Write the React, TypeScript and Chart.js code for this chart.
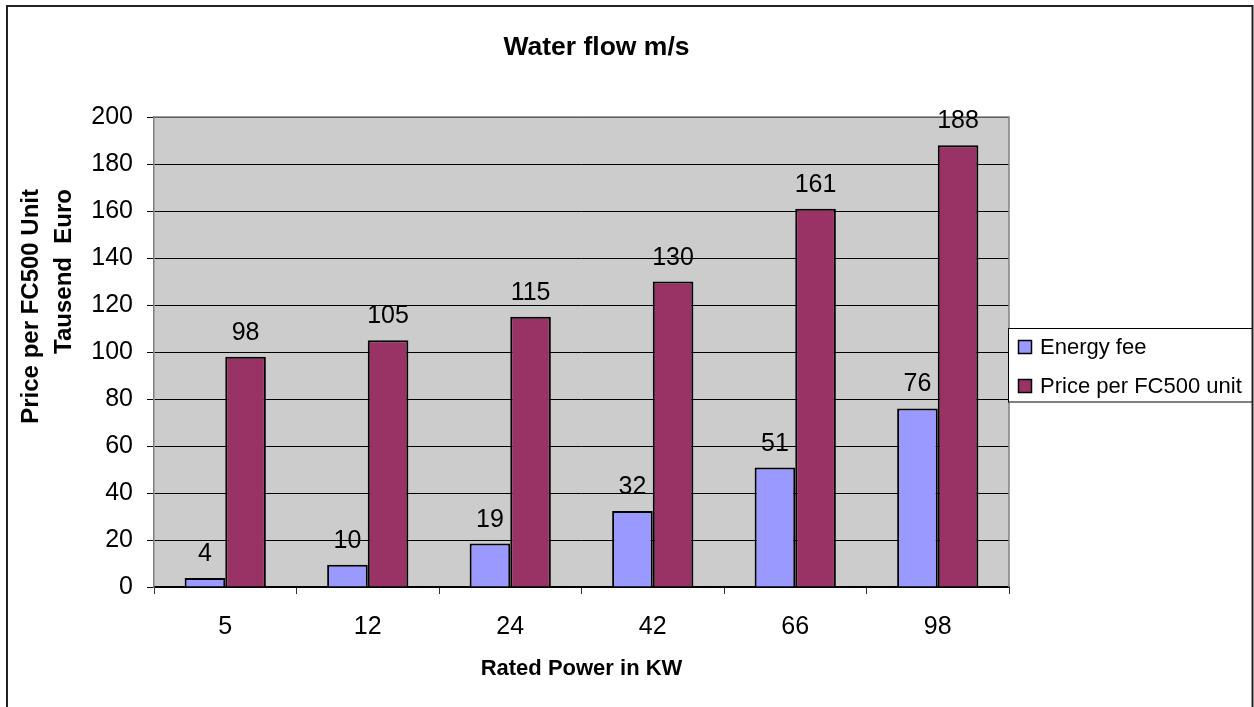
import React, { useEffect, useRef } from "react";
import { Chart, registerables } from "chart.js";

Chart.register(...registerables);

const categories = ["5", "12", "24", "42", "66", "98"];
const energyFee = [3.8, 9.5, 18.5, 32.3, 50.8, 76];
const pricePerUnit = [98, 105, 115, 130, 161, 188];
const seriesNames = ["Energy fee", "Price per FC500 unit"];
const seriesColors = ["#9999FF", "#993366"];
const chartTitle = "Water flow m/s";
const xTitle = "Rated Power in KW";
const yTitleLines = ["Price per FC500 Unit", "Tausend  Euro"];
const yMin = 0;
const yMax = 200;
const yStep = 20;

const FONT = "'Liberation Sans', Arial, Helvetica, sans-serif";

const customPlugin = {
  id: "customDecor",
  beforeDraw(chart: any) {
    const { ctx, chartArea } = chart;
    ctx.save();
    ctx.fillStyle = "#ffffff";
    ctx.fillRect(0, 0, chart.width, chart.height);
    ctx.fillStyle = "#CCCCCC";
    ctx.fillRect(chartArea.left, chartArea.top, chartArea.right - chartArea.left, chartArea.bottom - chartArea.top);
    ctx.restore();
  },
  afterDatasetsDraw(chart: any) {
    const { ctx, chartArea } = chart;
    ctx.save();
    ctx.strokeStyle = "#808080";
    ctx.lineWidth = 1.5;
    ctx.beginPath();
    ctx.moveTo(chartArea.left, chartArea.top);
    ctx.lineTo(chartArea.right, chartArea.top);
    ctx.lineTo(chartArea.right, chartArea.bottom);
    ctx.stroke();

    ctx.fillStyle = "#000";
    ctx.font = `25px ${FONT}`;
    ctx.textAlign = "center";
    ctx.textBaseline = "alphabetic";
    chart.data.datasets.forEach((ds: any, di: number) => {
      const meta = chart.getDatasetMeta(di);
      meta.data.forEach((bar: any, i: number) => {
        const v = ds.data[i];
        ctx.fillText(String(Math.round(v)), bar.x, bar.y - 17);
      });
    });
    ctx.restore();
  },
  afterDraw(chart: any) {
    const { ctx, chartArea } = chart;
    ctx.save();
    ctx.fillStyle = "#000";
    ctx.font = `bold 26.5px ${FONT}`;
    ctx.textAlign = "center";
    ctx.textBaseline = "alphabetic";
    ctx.fillText(chartTitle, 596.5, 55);

    ctx.font = `bold 22px ${FONT}`;
    ctx.fillText(xTitle, (chartArea.left + chartArea.right) / 2, 675);

    ctx.font = `bold 24px ${FONT}`;
    const baseXs = [38, 71];
    yTitleLines.forEach((line, i) => {
      ctx.save();
      ctx.translate(baseXs[i], 189);
      ctx.rotate(-Math.PI / 2);
      ctx.textAlign = "right";
      ctx.fillText(line, 0, 0);
      ctx.restore();
    });

    const lx = 1008.5, ly = 328.5, lw = 244, lh = 73.5;
    ctx.fillStyle = "#ffffff";
    ctx.fillRect(lx, ly, lw, lh);
    ctx.strokeStyle = "#000";
    ctx.lineWidth = 1;
    ctx.strokeRect(lx, ly, lw, lh);
    ctx.font = `22px ${FONT}`;
    ctx.textAlign = "left";
    const baselines = [354, 393];
    seriesNames.forEach((name, i) => {
      const b = baselines[i];
      ctx.fillStyle = seriesColors[i];
      ctx.fillRect(1018.5, b - 13.5, 13, 13);
      ctx.strokeStyle = "#000";
      ctx.lineWidth = 1.5;
      ctx.strokeRect(1018.5, b - 13.5, 13, 13);
      ctx.fillStyle = "#000";
      ctx.fillText(name, 1040, b);
    });

    ctx.strokeStyle = "#222";
    ctx.lineWidth = 2;
    ctx.beginPath();
    ctx.moveTo(7, 720);
    ctx.lineTo(7, 6);
    ctx.lineTo(1252.5, 6);
    ctx.lineTo(1252.5, 720);
    ctx.stroke();
    ctx.restore();
  },
};

export default function App() {
  const canvasRef = useRef<HTMLCanvasElement | null>(null);

  useEffect(() => {
    if (!canvasRef.current) return;
    const chart = new Chart(canvasRef.current, {
      type: "bar",
      data: {
        labels: categories,
        datasets: [
          {
            label: seriesNames[0],
            data: energyFee,
            backgroundColor: seriesColors[0],
            borderColor: "#000",
            borderWidth: 2,
            categoryPercentage: 0.57,
            barPercentage: 1.0,
          },
          {
            label: seriesNames[1],
            data: pricePerUnit,
            backgroundColor: seriesColors[1],
            borderColor: "#000",
            borderWidth: 2,
            categoryPercentage: 0.57,
            barPercentage: 1.0,
          },
        ],
      },
      options: {
        responsive: false,
        animation: false,
        devicePixelRatio: 1,
        layout: { padding: { left: 0, top: 117, right: 245, bottom: 70 } },
        plugins: {
          legend: { display: false },
          title: { display: false },
          tooltip: { enabled: false },
        },
        scales: {
          x: {
            grid: {
              display: true,
              offset: true,
              drawOnChartArea: false,
              drawTicks: true,
              tickLength: 7,
              color: "#333",
            },
            border: { display: true, color: "#000", width: 1.5 },
            ticks: {
              color: "#000",
              font: { family: FONT, size: 25 },
              padding: 18,
              maxRotation: 0,
              autoSkip: false,
            },
            afterFit: (scale: any) => {
              scale.height = 50;
            },
          },
          y: {
            min: yMin,
            max: yMax,
            grid: {
              color: "#000",
              lineWidth: 1,
              tickLength: 7,
              drawTicks: true,
            },
            border: { display: true, color: "#808080", width: 1.5 },
            ticks: {
              stepSize: yStep,
              color: "#000",
              font: { family: FONT, size: 25 },
              padding: 14,
            },
            afterFit: (scale: any) => {
              scale.width = 154;
            },
          },
        },
      },
      plugins: [customPlugin],
    });
    return () => chart.destroy();
  }, []);

  return (
    <div style={{ position: "fixed", left: 0, top: 0, width: 1254, height: 707, background: "#fff" }}>
      <canvas ref={canvasRef} width={1254} height={707} style={{ display: "block" }} />
    </div>
  );
}
